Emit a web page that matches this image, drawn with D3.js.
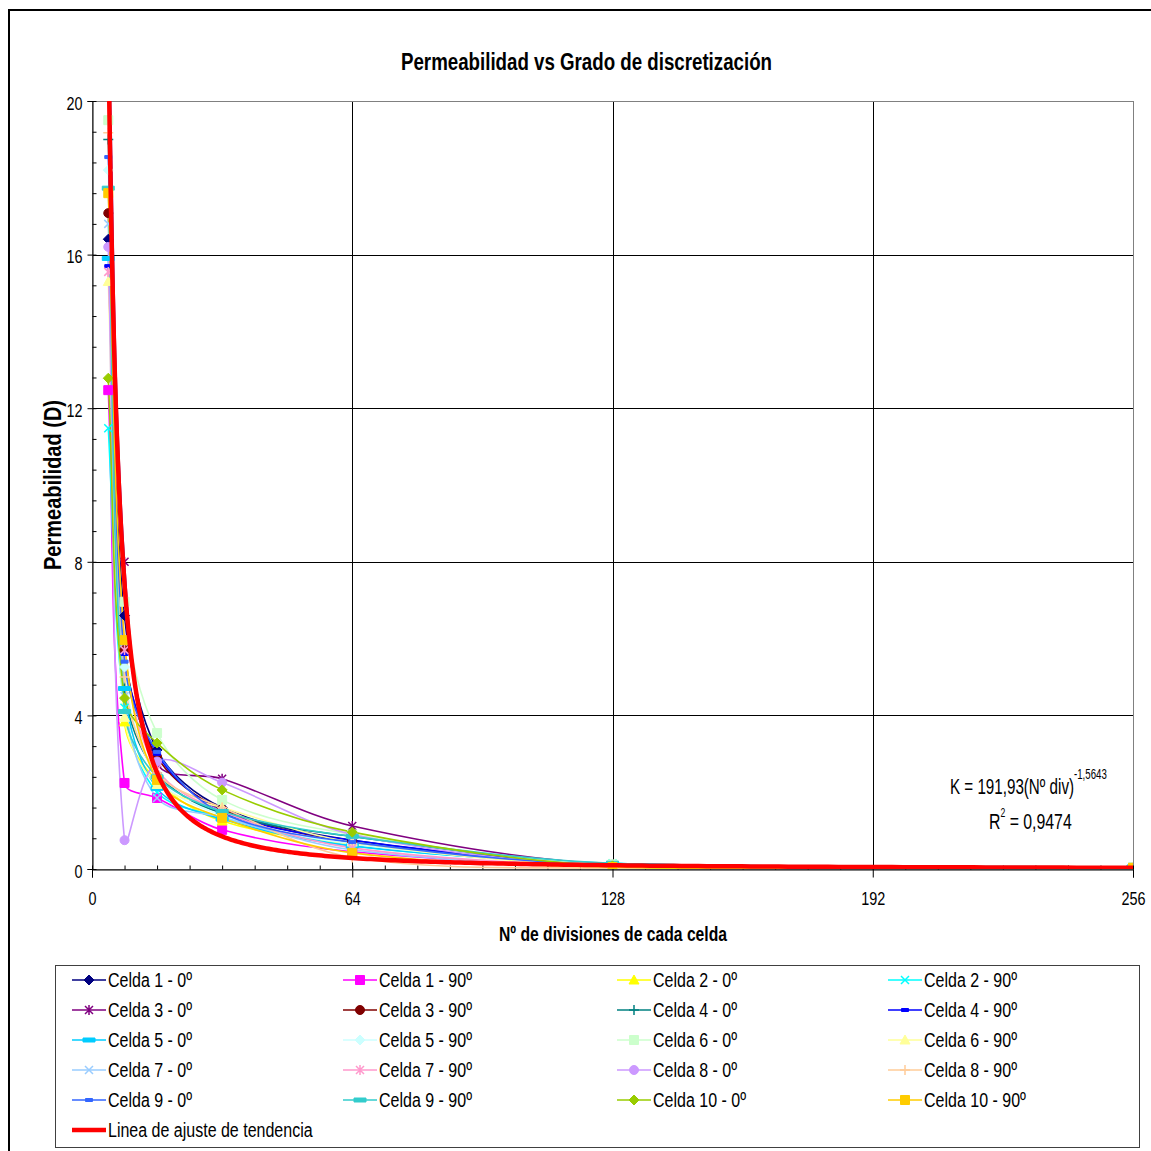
<!DOCTYPE html>
<html>
<head>
<meta charset="utf-8">
<script src="https://cdn.jsdelivr.net/npm/d3@7"></script>
<style>
  body { margin: 0; background: #fff; }
  svg { display: block; }
  text { font-family: "Liberation Sans", Arial, sans-serif; fill: #000; }
</style>
</head>
<body>
<div id="chart"></div>
<script>

// DATA
const divisions = [4, 8, 16, 32, 64, 128, 256];

const seriesNames = [
    "Celda 1 - 0º", "Celda 1 - 90º", "Celda 2 - 0º", "Celda 2 - 90º",
    "Celda 3 - 0º", "Celda 3 - 90º", "Celda 4 - 0º", "Celda 4 - 90º",
    "Celda 5 - 0º", "Celda 5 - 90º", "Celda 6 - 0º", "Celda 6 - 90º",
    "Celda 7 - 0º", "Celda 7 - 90º", "Celda 8 - 0º", "Celda 8 - 90º",
    "Celda 9 - 0º", "Celda 9 - 90º", "Celda 10 - 0º", "Celda 10 - 90º"
];

const celda1_0   = [16.4, 6.6, 3.1, 1.6, 0.75, 0.12, 0.05];
const celda1_90  = [12.47, 2.24, 1.85, 1.02, 0.45, 0.08, 0.03];
const celda2_0   = [21.0, 3.83, 2.3, 1.25, 0.65, 0.10, 0.03];
const celda2_90  = [11.48, 4.2, 2.0, 1.35, 0.6, 0.15, 0.04];
const celda3_0   = [22.5, 8.0, 2.75, 2.35, 1.12, 0.12, 0.05];
const celda3_90  = [17.08, 5.7, 2.92, 1.55, 0.7, 0.10, 0.04];
const celda4_0   = [19.0, 4.7, 2.5, 1.45, 0.85, 0.10, 0.05];
const celda4_90  = [15.7, 5.6, 3.0, 1.5, 0.75, 0.12, 0.05];
const celda5_0   = [15.9, 4.7, 2.1, 1.3, 0.6, 0.15, 0.05];
const celda5_90  = [18.2, 5.26, 2.4, 1.4, 0.65, 0.12, 0.04];
const celda6_0   = [19.5, 6.96, 3.54, 1.8, 0.9, 0.12, 0.05];
const celda6_90  = [15.3, 3.95, 2.2, 1.6, 0.7, 0.08, 0.03];
const celda7_0   = [16.8, 4.5, 1.85, 1.35, 0.5, 0.06, 0.02];
const celda7_90  = [15.55, 5.7, 2.6, 1.5, 0.55, 0.08, 0.03];
const celda8_0   = [16.2, 0.75, 2.8, 2.25, 0.9, 0.08, 0.03];
const celda8_90  = [19.17, 5.0, 2.5, 1.6, 0.3, 0.02, 0.01];
const celda9_0   = [18.54, 5.4, 3.05, 1.45, 0.7, 0.10, 0.04];
const celda9_90  = [17.73, 4.1, 2.4, 1.5, 0.85, 0.15, 0.05];
const celda10_0  = [12.78, 4.45, 3.28, 2.06, 0.96, 0.08, 0.01];
const celda10_90 = [17.6, 5.96, 2.32, 1.33, 0.42, 0.05, 0.03];

const seriesValues = [
    celda1_0, celda1_90, celda2_0, celda2_90, celda3_0, celda3_90,
    celda4_0, celda4_90, celda5_0, celda5_90, celda6_0, celda6_90,
    celda7_0, celda7_90, celda8_0, celda8_90, celda9_0, celda9_90,
    celda10_0, celda10_90
];

// trend line coefficients, as printed on the chart
const trendCoef = 191.93;
const trendExp = -1.5643;
const trendName = "Linea de ajuste de tendencia";

const yTicks = [0, 4, 8, 12, 16, 20];
const xTicks = [0, 64, 128, 192, 256];

// STYLES (Excel palette + markers)
const seriesColors = [
    "#000080", "#FF00FF", "#FFFF00", "#00FFFF", "#800080", "#800000",
    "#008080", "#0000FF", "#00CCFF", "#CCFFFF", "#CCFFCC", "#FFFF99",
    "#99CCFF", "#FF99CC", "#CC99FF", "#FFCC99", "#3366FF", "#33CCCC",
    "#99CC00", "#FFCC00"
];
const seriesMarkers = [
    "diamond", "square", "triangle", "x", "star", "circle",
    "plus", "dash", "wdash", "diamond", "square", "triangle",
    "x", "star", "circle", "plus", "dash", "wdash",
    "diamond", "square"
];


//1. SVG CANVAS
const width = 1151;
const height = 1151;

const svg = d3.select("#chart")
    .append("svg")
    .attr("width", width)
    .attr("height", height);

// outer chart frame
svg.append("rect")
    .attr("x", 9).attr("y", 10)
    .attr("width", 1160).attr("height", 1160)
    .attr("fill", "white")
    .attr("stroke", "black")
    .attr("stroke-width", 2);

const plot = { left: 92, right: 1133, top: 101, bottom: 869 };


//2. SCALES
const xScale = d3.scaleLinear()
    .domain([0, 256])
    .range([plot.left, plot.right]);

const yScale = d3.scaleLinear()
    .domain([0, 20])
    .range([plot.bottom, plot.top]);


//3. GRID + PLOT BORDER
svg.append("g")
    .selectAll("line")
    .data(yTicks.filter(d => d > 0 && d < 20))
    .enter()
    .append("line")
        .attr("x1", plot.left).attr("x2", plot.right)
        .attr("y1", d => Math.round(yScale(d)) + 0.5)
        .attr("y2", d => Math.round(yScale(d)) + 0.5)
        .attr("stroke", "#000");

svg.append("g")
    .selectAll("line")
    .data(xTicks.filter(d => d > 0 && d < 256))
    .enter()
    .append("line")
        .attr("y1", plot.top).attr("y2", plot.bottom)
        .attr("x1", d => Math.round(xScale(d)) + 0.5)
        .attr("x2", d => Math.round(xScale(d)) + 0.5)
        .attr("stroke", "#000");

svg.append("rect")
    .attr("x", plot.left + 0.5).attr("y", plot.top + 0.5)
    .attr("width", plot.right - plot.left).attr("height", plot.bottom - plot.top)
    .attr("fill", "none")
    .attr("stroke", "#808080");


//4. AXES
const minorY = d3.range(0, 20.01, 0.8);
const minorX = d3.range(0, 256.01, 8);

const yMinor = svg.append("g")
    .attr("transform", `translate(${plot.left + 0.5},0)`)
    .call(d3.axisLeft(yScale).tickValues(minorY).tickSize(-4).tickFormat(""));

const yAxis = svg.append("g")
    .attr("transform", `translate(${plot.left + 0.5},0)`)
    .call(d3.axisLeft(yScale).tickValues(yTicks).tickSize(5).tickFormat(d3.format("d")));

yAxis.selectAll("text")
    .attr("x", -12.5)
    .attr("dy", "0.45em")
    .style("font-size", "18px")
    .attr("transform", "scale(0.8,1)");

const xMinor = svg.append("g")
    .attr("transform", `translate(0,${plot.bottom + 0.5})`)
    .call(d3.axisBottom(xScale).tickValues(minorX).tickSize(-4).tickFormat(""));

const xAxis = svg.append("g")
    .attr("transform", `translate(0,${plot.bottom + 0.5})`)
    .call(d3.axisBottom(xScale).tickValues(xTicks).tickSize(8).tickFormat(d3.format("d")));

xAxis.selectAll(".tick text")
    .attr("y", 23)
    .attr("x", 0)
    .style("font-size", "18px")
    .attr("transform", "scale(0.8,1)");

svg.selectAll(".domain").attr("stroke", "#000");
yMinor.select(".domain").remove();
xMinor.select(".domain").remove();
svg.selectAll(".tick line").attr("stroke", "#000");


//5. SERIES LINES + MARKERS
svg.append("clipPath")
    .attr("id", "plotClip")
    .append("rect")
        .attr("x", plot.left).attr("y", plot.top)
        .attr("width", plot.right - plot.left).attr("height", plot.bottom - plot.top);

const chartArea = svg.append("g").attr("clip-path", "url(#plotClip)");

// Excel-like smoothed line: bezier control points along (P[i+1]-P[i-1]),
// split in proportion to the neighbouring segment lengths
function smoothPath(pts) {
    const p = d3.path();
    const n = pts.length;
    const dist = (a, b) => Math.hypot(b[0] - a[0], b[1] - a[1]);
    const ctrl = pts.map(function(pt, i) {
        const prev = pts[Math.max(i - 1, 0)];
        const next = pts[Math.min(i + 1, n - 1)];
        const dIn = dist(prev, pt), dOut = dist(pt, next);
        const tx = next[0] - prev[0], ty = next[1] - prev[1];
        const s = dIn + dOut || 1;
        return {
            inPt:  [pt[0] - tx * dIn / (3 * s), pt[1] - ty * dIn / (3 * s)],
            outPt: [pt[0] + tx * dOut / (3 * s), pt[1] + ty * dOut / (3 * s)]
        };
    });
    p.moveTo(pts[0][0], pts[0][1]);
    for (let i = 1; i < n; i++) {
        p.bezierCurveTo(ctrl[i - 1].outPt[0], ctrl[i - 1].outPt[1],
                        ctrl[i].inPt[0], ctrl[i].inPt[1],
                        pts[i][0], pts[i][1]);
    }
    return p.toString();
}

function markerPath(type) {
    switch (type) {
        case "diamond":  return "M0,-5L5,0L0,5L-5,0Z";
        case "square":   return "M-4.5,-4.5H4.5V4.5H-4.5Z";
        case "triangle": return "M0,-5L5,4L-5,4Z";
        case "circle":   return "M-4.5,0A4.5,4.5 0 1,0 4.5,0A4.5,4.5 0 1,0 -4.5,0Z";
        case "x":        return "M-4,-4L4,4M-4,4L4,-4";
        case "star":     return "M-4,-4L4,4M-4,4L4,-4M0,-5L0,5";
        case "plus":     return "M-5,0L5,0M0,-5L0,5";
        case "dash":     return "M-3.5,-1.5H3.5V1.5H-3.5Z";
        case "wdash":    return "M-6,-2H6V2H-6Z";
    }
}
const strokeOnly = ["x", "star", "plus"];

function drawMarker(g, type, color) {
    const open = strokeOnly.includes(type);
    g.append("path")
        .attr("d", markerPath(type))
        .attr("fill", open ? "none" : color)
        .attr("stroke", color)
        .attr("stroke-width", open ? 1.5 : 1);
}

seriesValues.forEach(function(vals, i) {
    const pts = divisions.map((d, j) => [xScale(d), yScale(vals[j])]);
    chartArea.append("path")
        .attr("d", smoothPath(pts))
        .attr("fill", "none")
        .attr("stroke", seriesColors[i])
        .attr("stroke-width", 1.6);
});

seriesValues.forEach(function(vals, i) {
    divisions.forEach(function(d, j) {
        const g = chartArea.append("g")
            .attr("transform", `translate(${xScale(d)},${yScale(vals[j])})`);
        drawMarker(g, seriesMarkers[i], seriesColors[i]);
    });
});

// power trend line K = a * x^b over the data range
const trendPts = d3.range(0, 301).map(function(k) {
    const x = 4 * Math.pow(64, k / 300);
    return [x, trendCoef * Math.pow(x, trendExp)];
});

chartArea.append("path")
    .datum(trendPts)
    .attr("d", d3.line().x(d => xScale(d[0])).y(d => yScale(d[1])))
    .attr("fill", "none")
    .attr("stroke", "#FF0000")
    .attr("stroke-width", 4.5);


//6. TITLES + EQUATION
svg.append("text")
    .attr("x", 401).attr("y", 70)
    .attr("textLength", 371).attr("lengthAdjust", "spacingAndGlyphs")
    .style("font-size", "23px").style("font-weight", "bold")
    .text("Permeabilidad vs Grado de discretización");

svg.append("text")
    .attr("x", 499).attr("y", 941)
    .attr("textLength", 228).attr("lengthAdjust", "spacingAndGlyphs")
    .style("font-size", "20px").style("font-weight", "bold")
    .text("Nº de divisiones de cada celda");

svg.append("text")
    .attr("transform", "translate(61,570) rotate(-90)")
    .attr("textLength", 170).attr("lengthAdjust", "spacingAndGlyphs")
    .style("font-size", "24px").style("font-weight", "bold")
    .text("Permeabilidad (D)");

// trend equation, superscripts kept inside the same text element
const eq1 = svg.append("text")
    .attr("transform", "translate(950,794) scale(0.69,1)")
    .style("font-size", "22px");
eq1.append("tspan").text("K = 191,93(Nº div)");
eq1.append("tspan").attr("dy", -15).style("font-size", "14px").text("-1,5643");

const eq2 = svg.append("text")
    .attr("transform", "translate(989,829) scale(0.72,1)")
    .style("font-size", "22px");
eq2.append("tspan").text("R");
eq2.append("tspan").attr("dy", -12).style("font-size", "12px").text("2");
eq2.append("tspan").attr("dy", 12).text(" = 0,9474");


//7. LEGEND
svg.append("rect")
    .attr("x", 55.5).attr("y", 965.5)
    .attr("width", 1084).attr("height", 182)
    .attr("fill", "white")
    .attr("stroke", "#404040");

const legendCols = [72, 343, 617, 888];
const legendRow0 = 980;
const legendRowStep = 30;

seriesNames.forEach(function(name, i) {
    const lx = legendCols[i % 4];
    const ly = legendRow0 + Math.floor(i / 4) * legendRowStep;
    const g = svg.append("g");
    g.append("line")
        .attr("x1", lx).attr("x2", lx + 34)
        .attr("y1", ly).attr("y2", ly)
        .attr("stroke", seriesColors[i])
        .attr("stroke-width", 1.6);
    const m = g.append("g").attr("transform", `translate(${lx + 17},${ly})`);
    drawMarker(m, seriesMarkers[i], seriesColors[i]);
    g.append("text")
        .attr("transform", `translate(${lx + 36},${ly + 7}) scale(0.8,1)`)
        .style("font-size", "20px")
        .text(name);
});

const trendRowY = legendRow0 + 5 * legendRowStep;
svg.append("line")
    .attr("x1", 72).attr("x2", 106)
    .attr("y1", trendRowY).attr("y2", trendRowY)
    .attr("stroke", "#FF0000")
    .attr("stroke-width", 4.5);

svg.append("text")
    .attr("transform", `translate(108,${trendRowY + 7}) scale(0.8,1)`)
    .style("font-size", "20px")
    .text(trendName);

</script>
</body>
</html>
